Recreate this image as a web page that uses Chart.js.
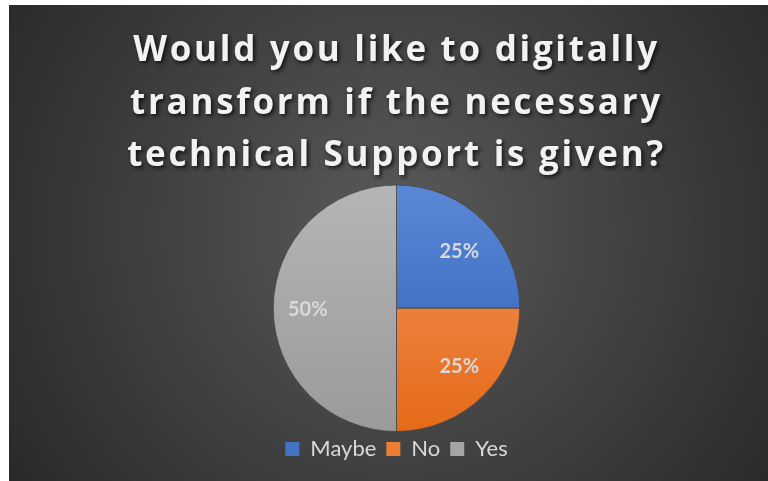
<!DOCTYPE html>
<html>
<head>
<meta charset="utf-8">
<script src="https://cdn.jsdelivr.net/npm/chart.js@4/dist/chart.umd.min.js"></script>
<style>
  html, body { margin: 0; padding: 0; background: #ffffff; }
  #wrap { position: absolute; left: 9px; top: 5px; width: 759px; height: 476px; }
</style>
</head>
<body>
<div id="wrap"><canvas id="c"></canvas></div>
<script>
// Survey question and answers
const titleLines = ['Would you like to digitally', 'transform if the necessary', 'technical Support is given?'];
const categories = ['Maybe', 'No', 'Yes'];
const shares = [25, 25, 50];

// Slice fills: [top colour, bottom colour] of a vertical gradient
const sliceFills = [
  ['#5b88d6', '#2c5db4'],
  ['#f59560', '#e46a18'],
  ['#b5b5b5', '#9a9a9a']
];
const legendColors = ['#4472c4', '#ed7d31', '#a5a5a5'];

const TITLE_FONT = '"Open Sans", Lato, "Liberation Sans", sans-serif';
const FONT = 'Lato, "Open Sans", "Liberation Sans", sans-serif';
const LEGEND_LIFT = 4;

function sliceGradient(ctx) {
  const chart = ctx.chart;
  const area = chart.chartArea;
  const i = ctx.dataIndex;
  if (!area) return legendColors[i];
  const g = chart.ctx.createLinearGradient(0, area.top, 0, area.bottom);
  g.addColorStop(0, sliceFills[i][0]);
  g.addColorStop(1, sliceFills[i][1]);
  return g;
}

// Dark radial backdrop behind the whole chart
const backdrop = {
  id: 'backdrop',
  beforeDraw(chart) {
    const { ctx, width, height } = chart;
    const cx = width * 0.51, cy = height * 0.47;
    const g = ctx.createRadialGradient(cx, cy, 0, cx, cy, Math.hypot(width, height) * 0.55);
    g.addColorStop(0, '#5a5a5a');
    g.addColorStop(1, '#262626');
    ctx.save();
    ctx.fillStyle = g;
    ctx.fillRect(0, 0, width, height);
    ctx.restore();
  }
};

// Drop shadow and letter spacing for the title block
const titleShadow = {
  id: 'titleShadow',
  afterUpdate(chart) {
    const tb = chart.titleBlock;
    if (!tb || tb._shadowWrapped) return;
    const original = tb.draw.bind(tb);
    tb.draw = function () {
      const ctx = chart.ctx;
      ctx.save();
      ctx.shadowColor = 'rgba(0,0,0,0.75)';
      ctx.shadowBlur = 4;
      ctx.shadowOffsetX = 2;
      ctx.shadowOffsetY = 2;
      ctx.letterSpacing = '2.7px';
      original();
      ctx.restore();
    };
    tb._shadowWrapped = true;
  }
};

// Pull the legend row a little closer to the pie
const legendNudge = {
  id: 'legendNudge',
  afterLayout(chart) {
    const lg = chart.legend;
    if (!lg) return;
    lg.top -= LEGEND_LIFT;
    lg.bottom -= LEGEND_LIFT;
  }
};

// Percentage labels inside each slice
const sliceLabels = {
  id: 'sliceLabels',
  afterDatasetsDraw(chart) {
    const { ctx } = chart;
    const meta = chart.getDatasetMeta(0);
    const data = chart.data.datasets[0].data;
    const total = data.reduce((a, b) => a + b, 0);
    ctx.save();
    ctx.font = 'bold 20px ' + FONT;
    ctx.fillStyle = '#d9d9d9';
    ctx.textAlign = 'center';
    ctx.textBaseline = 'middle';
    meta.data.forEach((arc, i) => {
      const p = arc.getProps(['x', 'y', 'startAngle', 'endAngle', 'outerRadius'], true);
      const mid = (p.startAngle + p.endAngle) / 2;
      const r = p.outerRadius * 0.72;
      const text = Math.round(data[i] / total * 100) + '%';
      ctx.fillText(text, p.x + Math.cos(mid) * r, p.y + Math.sin(mid) * r * 0.92 + 1);
    });
    ctx.restore();
  }
};

new Chart(document.getElementById('c'), {
  type: 'pie',
  data: {
    labels: categories,
    datasets: [{
      data: shares,
      backgroundColor: sliceGradient,
      borderColor: 'rgba(70,70,70,0.8)',
      borderWidth: 1
    }]
  },
  options: {
    responsive: true,
    maintainAspectRatio: false,
    animation: false,
    layout: { padding: { left: 16, right: 0, top: 0, bottom: 7 } },
    plugins: {
      title: {
        display: true,
        text: titleLines,
        color: '#f2f2f2',
        font: { family: TITLE_FONT, size: 35, weight: 'bold', lineHeight: 52.5 / 35 },
        padding: { top: 20, bottom: 2 }
      },
      legend: {
        position: 'bottom',
        labels: {
          color: '#d9d9d9',
          font: { family: FONT, size: 22 },
          boxWidth: 14,
          boxHeight: 14,
          padding: 10,
          generateLabels(chart) {
            return categories.map((c, i) => ({
              text: c,
              fillStyle: legendColors[i],
              strokeStyle: legendColors[i],
              lineWidth: 0,
              fontColor: '#d9d9d9',
              index: i,
              hidden: false
            }));
          }
        }
      },
      tooltip: { enabled: false }
    }
  },
  plugins: [backdrop, titleShadow, legendNudge, sliceLabels]
});
</script>
</body>
</html>
